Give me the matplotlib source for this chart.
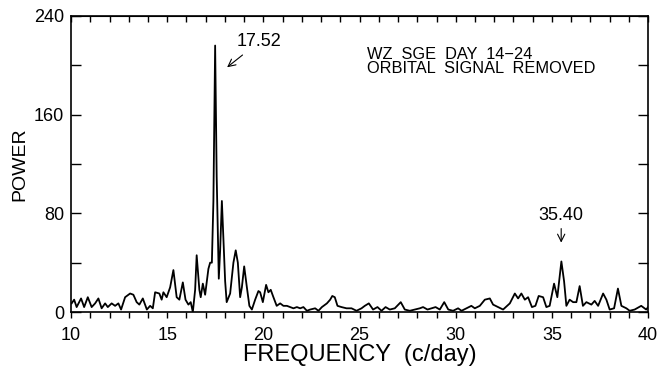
import numpy as np
import matplotlib
matplotlib.use("Agg")
import matplotlib.pyplot as plt
from matplotlib.ticker import MultipleLocator

FONT = "Liberation Sans"

# power spectrum (frequency in c/day, power)
freq = [10.03, 10.16, 10.29, 10.52, 10.68, 10.87, 11.07, 11.25, 11.42, 11.59,
        11.77, 11.91, 12.11, 12.29, 12.46, 12.60, 12.81, 13.07, 13.24, 13.41,
        13.55, 13.73, 13.94, 14.11, 14.25, 14.37, 14.59, 14.71, 14.80, 14.97,
        15.15, 15.32, 15.49, 15.63, 15.81, 15.95, 16.10, 16.22, 16.33, 16.45,
        16.53, 16.67, 16.74, 16.85, 16.97, 17.14, 17.23, 17.32, 17.40, 17.49,
        17.57, 17.68, 17.75, 17.84, 17.92, 18.01, 18.09, 18.27, 18.44, 18.56,
        18.67, 18.79, 18.88, 19.00, 19.14, 19.27, 19.40, 19.57, 19.74, 19.83,
        19.97, 20.14, 20.26, 20.38, 20.52, 20.69, 20.87, 21.04, 21.22, 21.39,
        21.56, 21.74, 21.91, 22.08, 22.26, 22.43, 22.69, 22.86, 23.04, 23.30,
        23.47, 23.58, 23.71, 23.85, 24.06, 24.32, 24.58, 24.84, 25.10, 25.27,
        25.48, 25.70, 25.93, 26.14, 26.35, 26.57, 26.83, 27.14, 27.35, 27.61,
        27.87, 28.13, 28.30, 28.53, 28.74, 28.95, 29.17, 29.40, 29.61, 29.86,
        30.12, 30.30, 30.55, 30.81, 30.99, 31.25, 31.51, 31.77, 31.94, 32.20,
        32.46, 32.81, 33.07, 33.24, 33.41, 33.59, 33.76, 33.96, 34.14, 34.31,
        34.54, 34.71, 34.88, 35.11, 35.28, 35.49, 35.63, 35.75, 35.92, 36.10,
        36.27, 36.44, 36.61, 36.79, 37.05, 37.22, 37.40, 37.66, 37.83, 38.00,
        38.23, 38.43, 38.61, 38.87, 39.04, 39.30, 39.64, 39.90, 40.00]
power = [7, 10, 4, 11, 4, 12, 4, 7, 11, 3,
         7, 4, 7, 5, 7, 2, 12, 15, 14, 8,
         6, 11, 2, 5, 3, 16, 15, 10, 16, 12,
         20, 34, 12, 10, 24, 10, 6, 8, 0, 18,
         46, 18, 12, 23, 14, 35, 40, 40, 90, 216,
         110, 27, 50, 90, 60, 25, 8, 15, 40, 50,
         40, 12, 20, 37, 20, 5, 2, 10, 17, 16,
         8, 22, 16, 18, 12, 5, 7, 5, 5, 4,
         3, 4, 3, 4, 1, 2, 3, 1, 4, 7,
         10, 13, 12, 5, 4, 3, 3, 1, 3, 5,
         7, 2, 4, 1, 4, 2, 3, 8, 2, 1,
         2, 3, 4, 2, 3, 4, 2, 8, 2, 1,
         3, 1, 3, 5, 3, 5, 10, 11, 6, 4,
         2, 7, 15, 11, 15, 10, 12, 4, 5, 13,
         12, 4, 5, 23, 12, 41, 25, 5, 10, 8,
         8, 21, 5, 8, 6, 9, 5, 15, 10, 2,
         3, 19, 5, 3, 1, 2, 5, 2, 4]

fig = plt.figure(figsize=(6.58, 3.71), dpi=100)
ax = fig.add_axes([0.108, 0.159, 0.877, 0.798])
ax.plot(freq, power, color="black", lw=1.3, solid_joinstyle="round")

ax.set_xlim(10, 40)
ax.set_ylim(0, 240)
ax.xaxis.set_major_locator(MultipleLocator(5))
ax.xaxis.set_minor_locator(MultipleLocator(1))
ax.yaxis.set_major_locator(MultipleLocator(80))
ax.yaxis.set_minor_locator(MultipleLocator(40))
ax.tick_params(axis="x", which="both", direction="out", top=False, length=4, width=1,
               labelsize=13, pad=7)
ax.tick_params(axis="y", which="both", direction="in", right=True, length=7, width=1,
               labelsize=13, pad=5)
sec = ax.secondary_xaxis("top")
sec.xaxis.set_major_locator(MultipleLocator(1))
sec.tick_params(direction="in", length=4, width=1, labeltop=False)
for lab in ax.get_xticklabels() + ax.get_yticklabels():
    lab.set_fontfamily(FONT)
for s in ax.spines.values():
    s.set_linewidth(1.2)

ax.set_xlabel("FREQUENCY  (c/day)", fontsize=17, family=FONT, labelpad=0)
ax.set_ylabel("POWER", fontsize=14, family=FONT, labelpad=4)

ax.text(0.513, 0.895, "WZ  SGE  DAY  14\u221224\nORBITAL  SIGNAL  REMOVED",
        transform=ax.transAxes, fontsize=11.8, family=FONT, va="top",
        linespacing=0.9)

ax.annotate("17.52", xy=(18.0, 197), xytext=(18.6, 212), fontsize=13, family=FONT,
            va="bottom",
            arrowprops=dict(arrowstyle="->", lw=0.8, color="black", shrinkA=2))
ax.annotate("35.40", xy=(35.48, 54), xytext=(35.48, 71), fontsize=13, family=FONT,
            ha="center", va="bottom",
            arrowprops=dict(arrowstyle="->", lw=0.8, color="black", shrinkA=1))

fig.savefig("out.png", dpi=100)
